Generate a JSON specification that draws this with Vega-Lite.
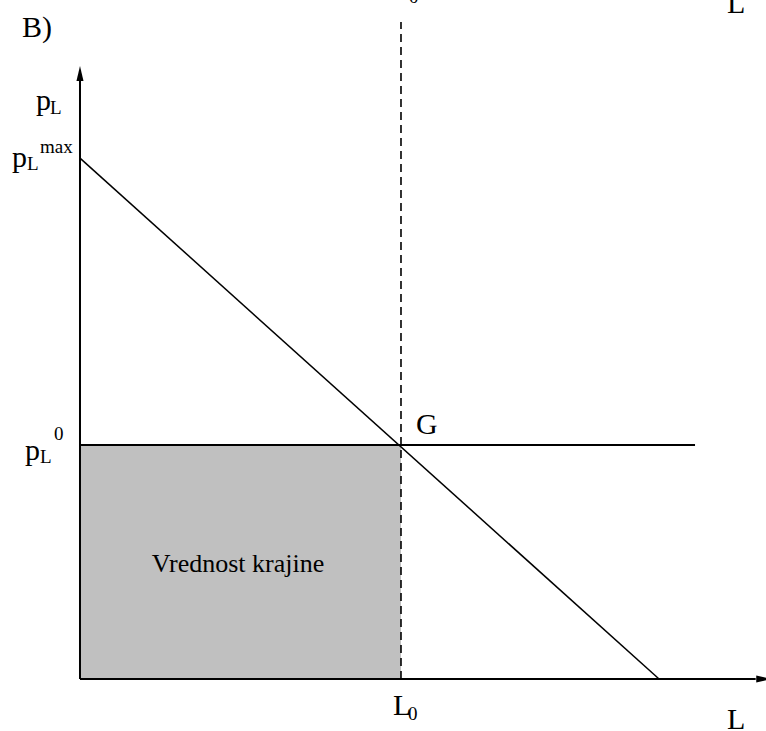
{
  "$schema": "https://vega.github.io/schema/vega-lite/v6.json",
  "width": 766,
  "height": 731,
  "padding": 0,
  "autosize": {"type": "none"},
  "background": "white",
  "config": {"view": {"stroke": null}},
  "encoding": {
    "x": {"field": "x", "type": "quantitative", "scale": {"domain": [-2.492, 21.371], "nice": false, "zero": false}, "axis": null},
    "y": {"field": "y", "type": "quantitative", "scale": {"domain": [-1.111, 14.509], "nice": false, "zero": false}, "axis": null}
  },
  "layer": [
    {
      "data": {"values": [{"x": 0, "x2": 10, "y": 0, "y2": 5}]},
      "mark": {"type": "rect", "fill": "#c0c0c0", "stroke": null},
      "encoding": {"x2": {"field": "x2"}, "y2": {"field": "y2"}}
    },
    {
      "data": {"values": [{"x": 10, "y": 0, "y2": 14.04}]},
      "mark": {"type": "rule", "color": "black", "strokeWidth": 1.6, "strokeDash": [8, 5]},
      "encoding": {"y2": {"field": "y2"}}
    },
    {
      "data": {"values": [{"x": 0, "x2": 19.16, "y": 5}]},
      "mark": {"type": "rule", "color": "black", "strokeWidth": 2},
      "encoding": {"x2": {"field": "x2"}}
    },
    {
      "data": {"values": [{"x": 0, "y": 11.13, "x2": 18.04, "y2": 0}]},
      "mark": {"type": "rule", "color": "black", "strokeWidth": 1.5},
      "encoding": {"x2": {"field": "x2"}, "y2": {"field": "y2"}}
    },
    {
      "data": {"values": [{"x": 0, "y": 0, "y2": 12.85}]},
      "mark": {"type": "rule", "color": "black", "strokeWidth": 2},
      "encoding": {"y2": {"field": "y2"}}
    },
    {
      "data": {"values": [{"x": 0, "x2": 21.05, "y": 0}]},
      "mark": {"type": "rule", "color": "black", "strokeWidth": 2},
      "encoding": {"x2": {"field": "x2"}}
    },
    {
      "data": {"values": [{"x": 0, "y": 12.94}]},
      "mark": {"type": "point", "shape": "M0,-1L-0.47,1L0.47,1Z", "size": 225, "filled": true, "color": "black", "opacity": 1, "strokeWidth": 0}
    },
    {
      "data": {"values": [{"x": 21.3, "y": 0}]},
      "mark": {"type": "point", "shape": "M1,0L-1,-0.47L-1,0.47Z", "size": 225, "filled": true, "color": "black", "opacity": 1, "strokeWidth": 0}
    },
    {
      "data": {"values": [
        {"x": -1.807, "y": 13.718, "t": "B)"},
        {"x": -1.371, "y": 12.158, "t": "p"},
        {"x": -2.118, "y": 10.94, "t": "p"},
        {"x": -1.713, "y": 4.679, "t": "p"},
        {"x": 10.467, "y": 5.235, "t": "G"},
        {"x": 9.751, "y": -0.769, "t": "L"},
        {"x": 20.156, "y": -1.068, "t": "L"},
        {"x": 20.156, "y": 14.231, "t": "L"}
      ]},
      "mark": {"type": "text", "align": "left", "baseline": "alphabetic", "font": "Liberation Serif", "fontSize": 30, "color": "black"},
      "encoding": {"text": {"field": "t"}}
    },
    {
      "data": {"values": [
        {"x": -0.935, "y": 12.073, "t": "L"},
        {"x": -1.651, "y": 10.876, "t": "L"},
        {"x": -1.246, "y": 11.239, "t": "max"},
        {"x": -1.246, "y": 4.615, "t": "L"},
        {"x": -0.81, "y": 5.107, "t": "0"},
        {"x": 10.218, "y": -0.876, "t": "0"},
        {"x": 10.25, "y": 14.45, "t": "0"}
      ]},
      "mark": {"type": "text", "align": "left", "baseline": "alphabetic", "font": "Liberation Serif", "fontSize": 19, "color": "black"},
      "encoding": {"text": {"field": "t"}}
    },
    {
      "data": {"values": [{"x": 4.922, "y": 2.286, "t": "Vrednost krajine"}]},
      "mark": {"type": "text", "align": "center", "baseline": "alphabetic", "font": "Liberation Serif", "fontSize": 26, "color": "black"},
      "encoding": {"text": {"field": "t"}}
    }
  ]
}
